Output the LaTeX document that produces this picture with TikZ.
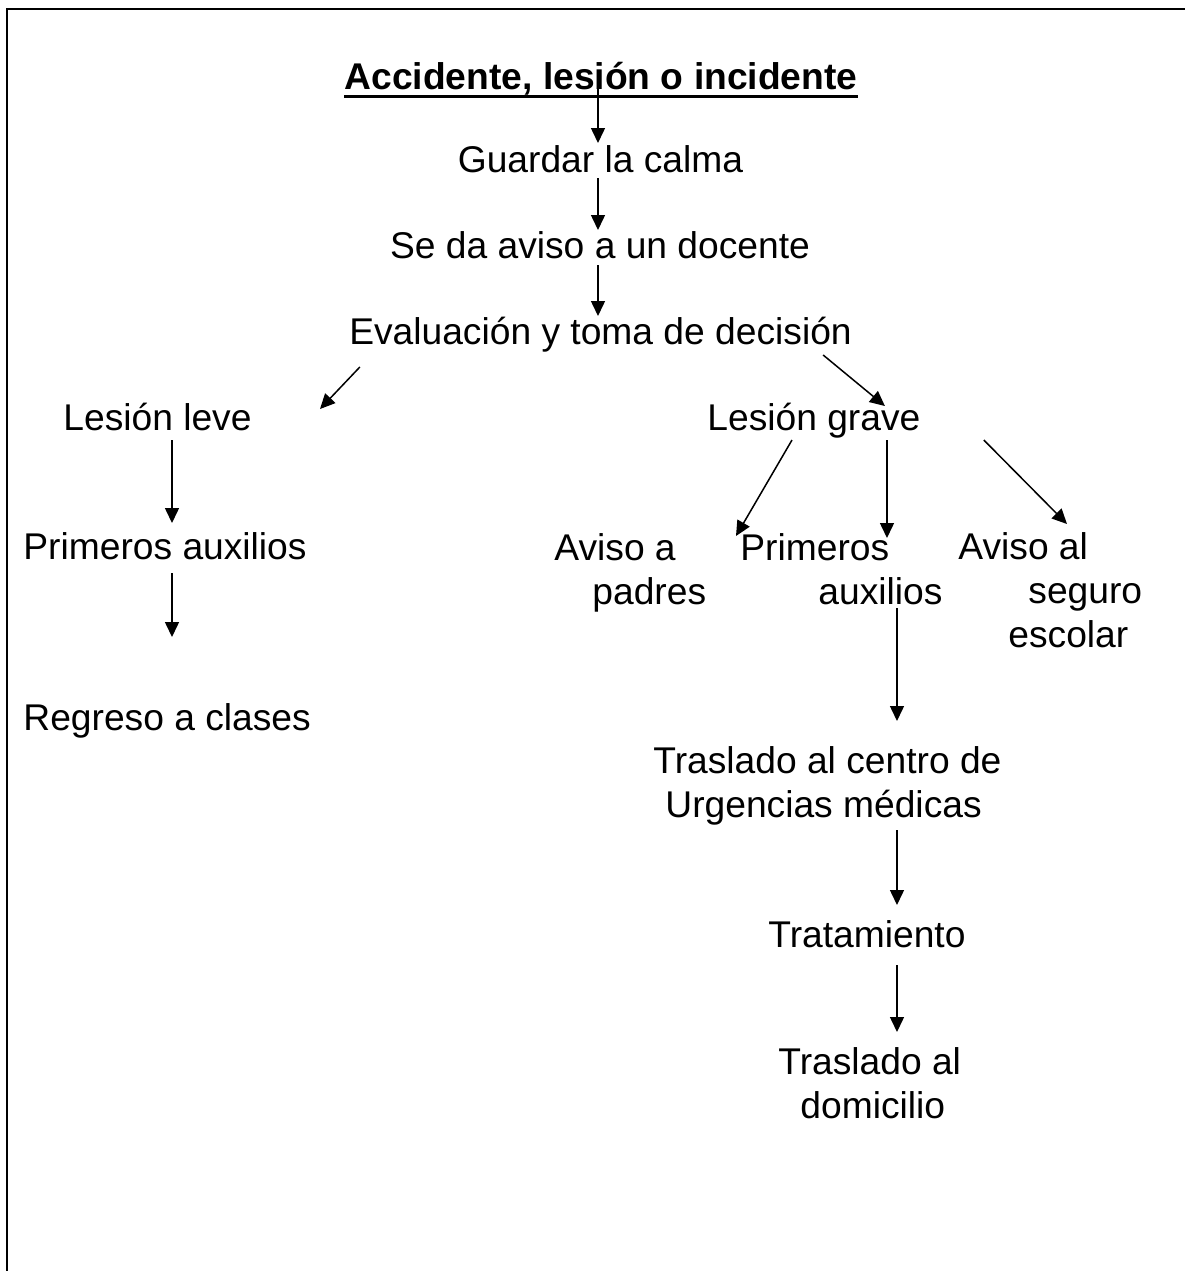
\documentclass[tikz,border=0pt]{standalone}
\usepackage{fontspec}
\setmainfont{Liberation Sans}
\usetikzlibrary{arrows.meta,calc}

\begin{document}
\begin{tikzpicture}[x=0.5pt, y=-0.5pt,
    txt/.style={inner sep=0pt, font=\fontsize{18.6pt}{22pt}\selectfont},
    arr/.style={line width=0.75pt, -{Triangle[length=7.5pt,width=7pt]}}]
  \useasboundingbox (0,0) rectangle (1185,1271);
  \draw [line width=1pt] (7,1271) -- (7,9) -- (1185,9);

  % centre column
  \node [txt, anchor=base, font=\fontsize{18.6pt}{22pt}\selectfont\bfseries] (title) at (601,89) {Accidente, lesión o incidente};
  \draw [line width=1.5pt] ($(title.base west)+(0,7)$) -- ($(title.base east)+(0,7)$);
  \node [txt, anchor=base] (calma) at (600.5,172) {Guardar la calma};
  \node [txt, anchor=base] (docente) at (600,258) {Se da aviso a un docente};
  \node [txt, anchor=base] (evalua) at (600.5,344) {Evaluación y toma de decisión};

  % lesion leve
  \node [txt, anchor=base west] (leve) at (63,430) {Lesión leve};
  \node [txt, anchor=base west] (auxL) at (23,559) {Primeros auxilios};
  \node [txt, anchor=base west] (regreso) at (23,730) {Regreso a clases};

  % lesion grave (base = last line)
  \node [txt, anchor=base west] (grave) at (707,430) {Lesión grave};
  \node [txt, anchor=base west, align=left] (padres) at (554,604) {Aviso a\\\hspace*{19pt}padres};
  \node [txt, anchor=base west, align=left] (auxR) at (740,604) {Primeros\\\hspace*{39pt}auxilios};
  \node [txt, anchor=base west, align=left] (seguro) at (958,647) {Aviso al\\\hspace*{35pt}seguro\\\hspace*{25pt}escolar};
  \node [txt, anchor=base west, align=left] (centro) at (653,817) {Traslado al centro de\\\hspace*{6pt}Urgencias médicas};
  \node [txt, anchor=base west] (tratam) at (768,947) {Tratamiento};
  \node [txt, anchor=base west, align=left] (domicilio) at (778,1118) {Traslado al\\\hspace*{11pt}domicilio};

  \draw [arr] ($(title.base)+(-3,-4)$) -- ($(calma.base)+(-2.5,-29)$);
  \draw [arr] ($(calma.base)+(-2.5,6)$) -- ($(docente.base)+(-2,-28)$);
  \draw [arr] ($(docente.base)+(-2,7)$) -- ($(evalua.base)+(-2.5,-28)$);
  \draw [arr] ($(evalua.base west)+(11,23)$) -- ($(leve.base east)+(68,-21)$);
  \draw [arr] ($(evalua.base east)+(-29,11)$) -- ($(grave.base)+(71,-24)$);

  \draw [arr] ($(leve.base west)+(109,10)$) -- ($(auxL.base west)+(149,-36)$);
  \draw [arr] ($(auxL.base west)+(149,14)$) -- ($(regreso.base west)+(149,-93)$);

  \draw [arr] ($(grave.base west)+(85,10)$) -- ($(padres.base west)+(182,-68)$);
  \draw [arr] ($(grave.base west)+(180,10)$) -- ($(auxR.base west)+(147,-66)$);
  \draw [arr] ($(grave.base east)+(63,10)$) -- ($(seguro.base west)+(109,-123)$);
  \draw [arr] ($(auxR.base west)+(157,4)$) -- ($(centro.base west)+(244,-96)$);
  \draw [arr] ($(centro.base west)+(244,13)$) -- ($(tratam.base west)+(129,-42)$);
  \draw [arr] ($(tratam.base west)+(129,18)$) -- ($(domicilio.base west)+(119,-86)$);
\end{tikzpicture}
\end{document}
